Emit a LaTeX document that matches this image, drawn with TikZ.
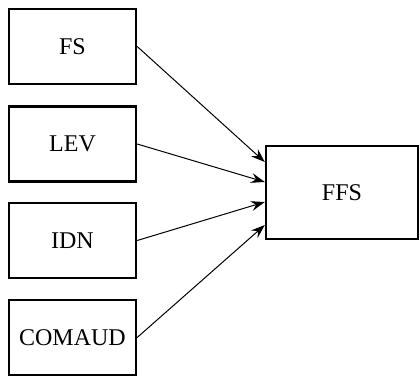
\documentclass[tikz,border=0pt]{standalone}
\usepackage{fontspec}
\setmainfont{Liberation Serif}
\usetikzlibrary{positioning,calc,arrows.meta}

\tikzset{
    varbox/.style={draw, line width=1.2pt, minimum width=63.5pt, minimum height=37.5pt, inner sep=2pt, font=\fontsize{12}{14}\selectfont},
    link/.style={-{Stealth[length=7pt,width=5pt,inset=2.5pt]}, line width=0.5pt}
}

\begin{document}
\begin{tikzpicture}[x=0.5pt, y=-0.5pt]
        % Frame
        \useasboundingbox (0,0) rectangle (420,376);

        % Input variables
        \node[varbox] (fs) at (72.5,46.5) {FS};
        \node[varbox] (lev) at (72.5,144) {LEV};
        \node[varbox] (idn) at (72.5,240.5) {IDN};
        \node[varbox] (comaud) at (72.5,337.5) {COMAUD};

        % Output variable
        \node[varbox, minimum width=76pt, minimum height=46.5pt] (ffs) at (342,192.5) {FFS};

        % Links
        \draw[link] (fs.east) -- ([yshift=15.25pt]ffs.west);
        \draw[link] (lev.east) -- ([yshift=5.25pt]ffs.west);
        \draw[link] (idn.east) -- ([yshift=-4.75pt]ffs.west);
        \draw[link] (comaud.east) -- ([yshift=-16.25pt]ffs.west);
    \end{tikzpicture}
\end{document}
